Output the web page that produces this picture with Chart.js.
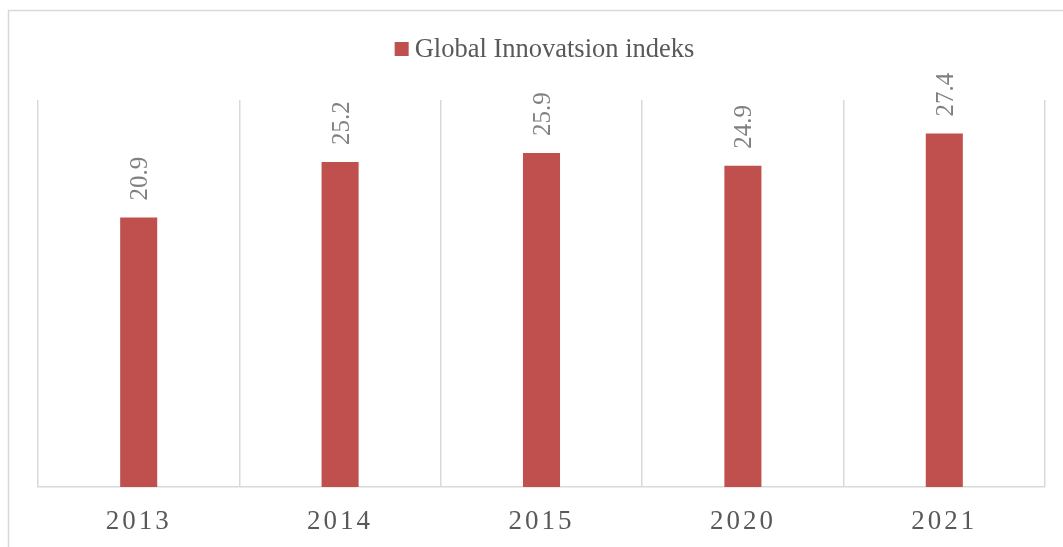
<!DOCTYPE html>
<html>
<head>
<meta charset="utf-8">
<script src="https://cdn.jsdelivr.net/npm/chart.js@4/dist/chart.umd.min.js"></script>
<style>
  html, body { margin: 0; padding: 0; background: #fff; }
  #chartContainer { width: 1063px; height: 547px; position: relative; }
</style>
</head>
<body>
<div id="chartContainer"><canvas id="innovationChart"></canvas></div>
<script>
// chart data
const years = ['2013', '2014', '2015', '2020', '2021'];
const indexValues = [20.9, 25.2, 25.9, 24.9, 27.4];
const seriesName = 'Global Innovatsion indeks';

const barColor = '#C0504D';
const gridColor = '#d9d9d9';
const textColor = '#595959';
const serif = '"Liberation Serif", "Times New Roman", serif';

// frame around the whole chart + letter spacing for the year labels
const framePlugin = {
    id: 'frame',
    beforeDraw(chart) {
        const ctx = chart.ctx;
        ctx.save();
        ctx.fillStyle = '#fff';
        ctx.fillRect(0, 0, chart.width, chart.height);
        ctx.strokeStyle = gridColor;
        ctx.lineWidth = 1.5;
        ctx.strokeRect(8.5, 10.5, chart.width + 20, chart.height + 20);
        ctx.restore();
        ctx.letterSpacing = '3px';
    }
};

// rotated value labels above each bar
const valueLabels = {
    id: 'valueLabels',
    afterDatasetsDraw(chart) {
        const ctx = chart.ctx;
        const meta = chart.getDatasetMeta(0);
        ctx.save();
        ctx.letterSpacing = '0px';
        ctx.font = '25px ' + serif;
        ctx.fillStyle = '#808080';
        ctx.textAlign = 'left';
        ctx.textBaseline = 'middle';
        meta.data.forEach((bar, i) => {
            ctx.save();
            ctx.translate(bar.x + 2, bar.y - 17);
            ctx.rotate(-Math.PI / 2);
            ctx.fillText(indexValues[i].toFixed(1), 0, 0);
            ctx.restore();
        });
        ctx.restore();
    }
};

// legend drawn by hand so it can sit higher than the plot
const topLegend = {
    id: 'topLegend',
    afterDraw(chart) {
        const ctx = chart.ctx;
        const area = chart.chartArea;
        ctx.save();
        ctx.letterSpacing = '0px';
        ctx.font = '26.5px ' + serif;
        const textW = ctx.measureText(seriesName).width;
        const box = 14, gap = 6;
        const total = box + gap + textW;
        const x0 = (area.left + area.right) / 2 + 3 - total / 2;
        const cy = 50;
        ctx.fillStyle = barColor;
        ctx.fillRect(x0, cy - 8, box, box);
        ctx.fillStyle = textColor;
        ctx.textAlign = 'left';
        ctx.textBaseline = 'middle';
        ctx.fillText(seriesName, x0 + box + gap, cy);
        ctx.restore();
    }
};

const ctx = document.getElementById('innovationChart').getContext('2d');
new Chart(ctx, {
    type: 'bar',
    data: {
        labels: years,
        datasets: [{
            label: seriesName,
            data: indexValues,
            backgroundColor: barColor,
            borderWidth: 0,
            categoryPercentage: 1,
            barPercentage: 0.184
        }]
    },
    options: {
        responsive: true,
        maintainAspectRatio: false,
        animation: false,
        devicePixelRatio: 1,
        layout: { padding: { left: 38, right: 18, top: 100, bottom: 0 } },
        scales: {
            x: {
                grid: { color: gridColor, lineWidth: 1.5, drawTicks: false, offset: true },
                border: { color: gridColor, width: 1.5 },
                ticks: {
                    color: textColor,
                    font: { family: serif, size: 27 },
                    padding: 19,
                    maxRotation: 0
                },
                afterFit(scale) { scale.height = 60; }
            },
            y: {
                display: false,
                min: 0,
                max: 30
            }
        },
        plugins: {
            legend: { display: false },
            tooltip: { enabled: false }
        }
    },
    plugins: [framePlugin, valueLabels, topLegend]
});
</script>
</body>
</html>
